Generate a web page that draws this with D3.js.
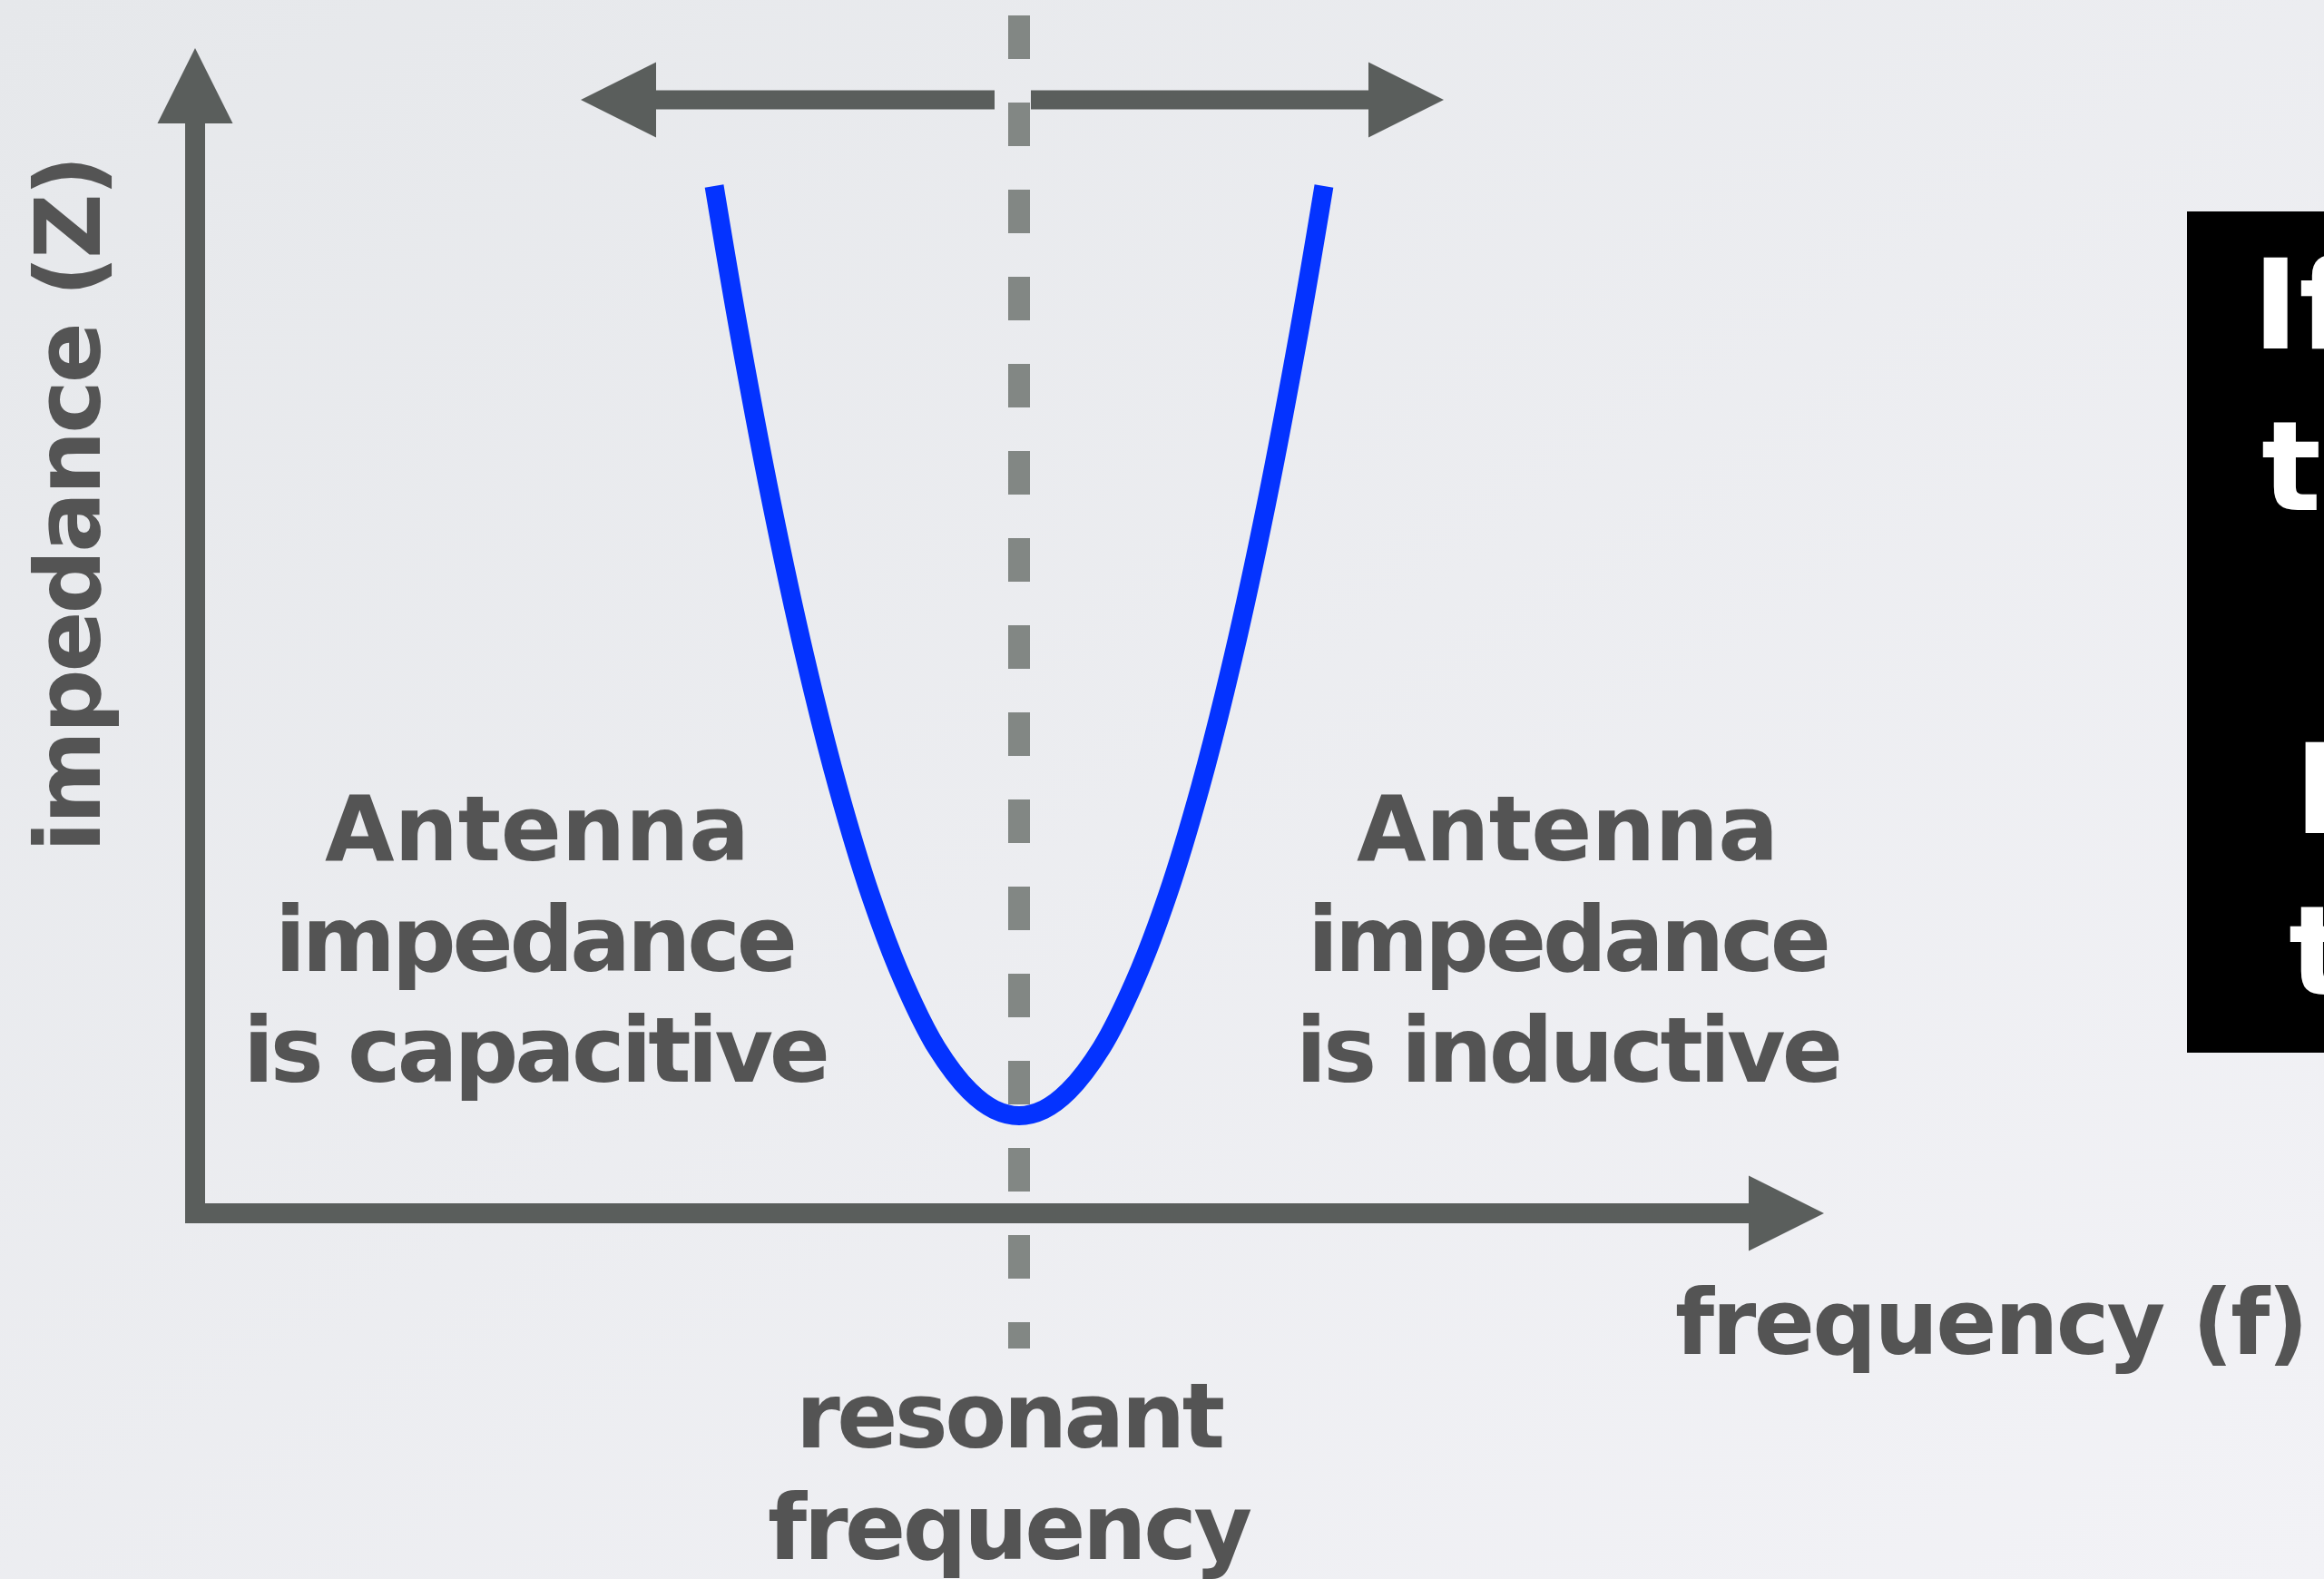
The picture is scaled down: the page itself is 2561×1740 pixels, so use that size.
<!DOCTYPE html>
<html>
<head>
<meta charset="utf-8">
<script src="https://cdn.jsdelivr.net/npm/d3@7"></script>
<style>
  html, body { margin: 0; padding: 0; overflow: hidden; background: #eceef1; }
  svg { display: block; }
</style>
</head>
<body>
<script>
// Impedance vs. frequency around an antenna's resonance
const frequency = [3.15, 3.3, 3.5, 3.7, 3.9, 4.1, 4.3, 4.5, 4.7, 4.85, 5.0, 5.15, 5.3, 5.5, 5.7, 5.9, 6.1, 6.3, 6.5, 6.7, 6.85];
const impedance = [10.0, 8.59, 6.9, 5.42, 4.15, 3.09, 2.25, 1.61, 1.19, 1.01, 0.95, 1.01, 1.19, 1.61, 2.25, 3.09, 4.15, 5.42, 6.9, 8.59, 10.0];
const resonantFrequency = 5.0;

const axisTitleX = "frequency (f)";
const axisTitleY = "impedance (Z)";
const leftLabel = ["Antenna", "impedance", "is capacitive"];
const rightLabel = ["Antenna", "impedance", "is inductive"];
const resonanceLabel = ["resonant", "frequency"];
const noteLines = ["If f is too low,", "trim the antenna", "", "If f is too high,", "the antenna is short"];

const W = 2561, H = 1740;
const axisColor = "#5a5e5c";
const textColor = "#545454";
const dashColor = "#828784";
const curveColor = "#0433ff";
const font = "'DejaVu Sans', Verdana, sans-serif";

const svg = d3.select("body").append("svg")
  .attr("width", W).attr("height", H);

// soft slide background
const defs = svg.append("defs");
const grad = defs.append("linearGradient").attr("id", "bg")
  .attr("x1", "0").attr("y1", "0").attr("x2", "1").attr("y2", "1");
grad.append("stop").attr("offset", "0").attr("stop-color", "#e6e8eb");
grad.append("stop").attr("offset", "1").attr("stop-color", "#f2f2f6");
svg.append("rect").attr("width", W).attr("height", H).attr("fill", "url(#bg)");

const x = d3.scaleLinear().domain([0, 10]).range([215, 2031]);
const y = d3.scaleLinear().domain([0, 10]).range([1337, 205]);

// axes with arrowheads
const axisW = 22, head = 83;
const x0 = x(0), y0 = y(0);
const yTop = 53, xRight = 2010;
svg.append("rect").attr("x", x0 - axisW / 2).attr("y", yTop + head)
  .attr("width", axisW).attr("height", y0 + axisW / 2 - (yTop + head)).attr("fill", axisColor);
svg.append("path")
  .attr("d", `M${x0},${yTop} L${x0 - head / 2},${yTop + head} L${x0 + head / 2},${yTop + head} Z`)
  .attr("fill", axisColor);
svg.append("rect").attr("x", x0 - axisW / 2).attr("y", y0 - axisW / 2)
  .attr("width", xRight - head - (x0 - axisW / 2)).attr("height", axisW).attr("fill", axisColor);
svg.append("path")
  .attr("d", `M${xRight},${y0} L${xRight - head},${y0 - head / 2} L${xRight - head},${y0 + head / 2} Z`)
  .attr("fill", axisColor);

// resonance marker
const xr = x(resonantFrequency);
svg.append("line")
  .attr("x1", xr).attr("x2", xr).attr("y1", 17).attr("y2", 1486)
  .attr("stroke", dashColor).attr("stroke-width", 24)
  .attr("stroke-dasharray", "48 48");

// double arrow above the curve: frequency moving away from resonance
const ay = 110, aw = 21;
const leftTip = 640, rightTip = 1591;
svg.append("rect").attr("x", leftTip + head - 1).attr("y", ay - aw / 2)
  .attr("width", 1096 - (leftTip + head - 1)).attr("height", aw).attr("fill", axisColor);
svg.append("path")
  .attr("d", `M${leftTip},${ay} L${leftTip + head},${ay - head / 2} L${leftTip + head},${ay + head / 2} Z`)
  .attr("fill", axisColor);
svg.append("rect").attr("x", 1136).attr("y", ay - aw / 2)
  .attr("width", rightTip - head + 1 - 1136).attr("height", aw).attr("fill", axisColor);
svg.append("path")
  .attr("d", `M${rightTip},${ay} L${rightTip - head},${ay - head / 2} L${rightTip - head},${ay + head / 2} Z`)
  .attr("fill", axisColor);

// impedance curve
const pts = frequency.map((f, i) => [f, impedance[i]]);
const line = d3.line().x(d => x(d[0])).y(d => y(d[1])).curve(d3.curveCatmullRom.alpha(0.5));
svg.append("path").datum(pts)
  .attr("d", line)
  .attr("fill", "none").attr("stroke", curveColor)
  .attr("stroke-width", 21).attr("stroke-linecap", "butt").attr("stroke-linejoin", "round");

// text helper
function label(txt, tx, ty, len, size, opts = {}) {
  return svg.append("text")
    .attr("x", tx).attr("y", ty)
    .attr("font-family", font).attr("font-weight", 700)
    .attr("font-size", size)
    .attr("fill", opts.fill || textColor)
    .attr("textLength", len).attr("lengthAdjust", "spacing")
    .attr("transform", opts.transform || null)
    .text(txt);
}

// region labels
const rowY = [948, 1070, 1192];
const leftSpan = [[358, 826], [303, 879], [268, 915]];
const rightSpan = [[1495, 1960], [1441, 2018], [1428, 2031]];
leftLabel.forEach((t, i) => label(t, leftSpan[i][0], rowY[i], leftSpan[i][1] - leftSpan[i][0], 99));
rightLabel.forEach((t, i) => label(t, rightSpan[i][0], rowY[i], rightSpan[i][1] - rightSpan[i][0], 99));

// resonance label
label(resonanceLabel[0], 877, 1595, 1350 - 877, 99);
label(resonanceLabel[1], 846, 1718, 1380 - 846, 99);

// axis titles
label(axisTitleX, 1846, 1492, 2544 - 1846, 99);
label(axisTitleY, 0, 0, 939 - 171, 99, { transform: "translate(110,939) rotate(-90)" });

// note panel at the right edge
svg.append("rect").attr("x", 2410).attr("y", 233).attr("width", 400).attr("height", 927).attr("fill", "#000");
const noteX = [2482, 2492, 2500, 2528, 2522];
noteLines.forEach((t, i) => {
  if (!t) return;
  svg.append("text")
    .attr("x", noteX[i]).attr("y", 384 + i * 178)
    .attr("font-family", font).attr("font-weight", 700)
    .attr("font-size", 138).attr("fill", "#ffffff")
    .text(t);
});
</script>
</body>
</html>
